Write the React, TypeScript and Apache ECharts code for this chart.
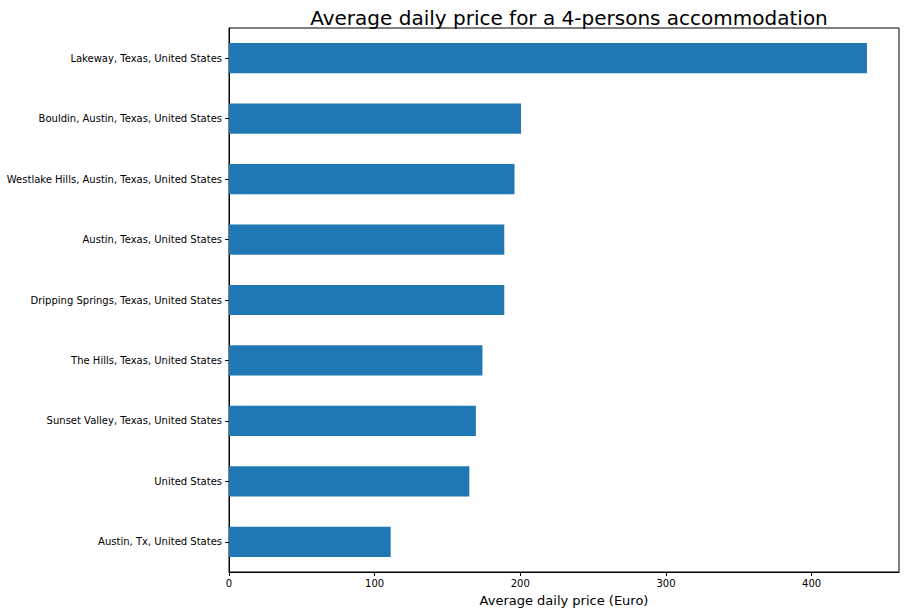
import { useEffect, useRef } from "react";
import * as echarts from "echarts";

const locations = [
  "Lakeway, Texas, United States",
  "Bouldin, Austin, Texas, United States",
  "Westlake Hills, Austin, Texas, United States",
  "Austin, Texas, United States",
  "Dripping Springs, Texas, United States",
  "The Hills, Texas, United States",
  "Sunset Valley, Texas, United States",
  "United States",
  "Austin, Tx, United States",
];
const prices = [438, 200.5, 196, 189, 189, 174, 169.5, 165, 111];

export default function App() {
  const ref = useRef<HTMLDivElement>(null);
  useEffect(() => {
    if (!ref.current) return;
    const chart = echarts.init(ref.current, undefined, { renderer: "svg" });
    const font = "DejaVu Sans";
    chart.setOption({
      animation: false,
      backgroundColor: "#fff",
      textStyle: { fontFamily: font },
      title: {
        text: "Average daily price for a 4-persons accommodation",
        left: 564,
        textAlign: "center",
        top: 3,
        textStyle: { fontSize: 20, fontWeight: "normal", color: "#000", fontFamily: font },
      },
      grid: { left: 229, right: 6, top: 28, bottom: 41, show: true, borderColor: "#000", borderWidth: 1, backgroundColor: "transparent" },
      xAxis: {
        type: "value",
        min: 0,
        max: 460,
        interval: 100,
        name: "Average daily price (Euro)",
        nameLocation: "middle",
        nameGap: 22,
        nameTextStyle: { fontSize: 13, color: "#000" },
        axisLine: { show: true, lineStyle: { color: "#000" } },
        axisTick: { show: true, length: 4, lineStyle: { color: "#000" } },
        axisLabel: { fontSize: 10, color: "#000", margin: 6, showMaxLabel: false },
        splitLine: { show: false },
      },
      yAxis: {
        type: "category",
        inverse: true,
        data: locations,
        axisLine: { show: true, lineStyle: { color: "#000" } },
        axisTick: { show: true, alignWithLabel: true, length: 4, lineStyle: { color: "#000" } },
        axisLabel: { fontSize: 10, color: "#000", margin: 7 },
      },
      series: [
        {
          type: "bar",
          data: prices,
          barWidth: "50%",
          itemStyle: { color: "#1f77b4" },
        },
      ],
    });
    return () => chart.dispose();
  }, []);
  return <div ref={ref} style={{ position: "absolute", left: 0, top: 0, width: 905, height: 613 }} />;
}
